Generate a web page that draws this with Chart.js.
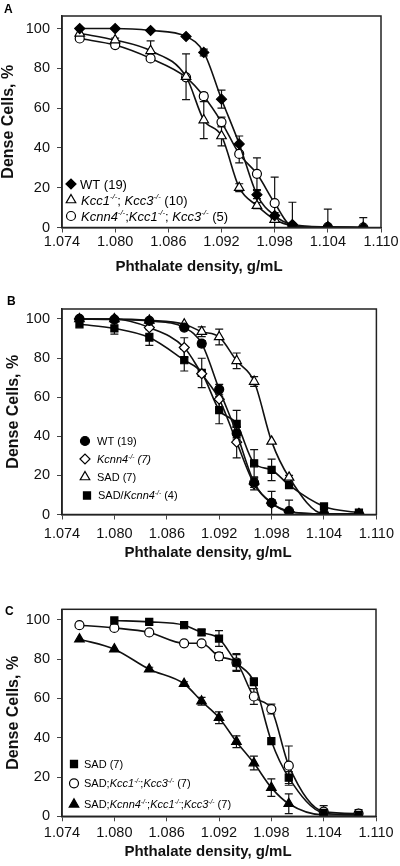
<!DOCTYPE html>
<html>
<head>
<meta charset="utf-8">
<script src="https://cdn.jsdelivr.net/npm/chart.js@4.4.1/dist/chart.umd.min.js"></script>
<style>
  html, body { margin: 0; padding: 0; background: #fff; }
  #wrap { position: relative; width: 400px; height: 866px; overflow: hidden; }
  canvas { position: absolute; left: 0; }
  .tag { position: absolute; font: bold 12px "Liberation Sans", Arial, sans-serif; line-height: 12px; color: #000; }
</style>
</head>
<body>
<div id="wrap">
  <canvas id="chartA" width="400" height="288" style="top:0px"></canvas>
  <canvas id="chartB" width="400" height="288" style="top:288px"></canvas>
  <canvas id="chartC" width="400" height="290" style="top:576px"></canvas>
  <div class="tag" style="left:4px;top:3px">A</div>
  <div class="tag" style="left:7px;top:295px">B</div>
  <div class="tag" style="left:5px;top:605px">C</div>
</div>
<script>
const FONT = '"Liberation Sans", Arial, Helvetica, sans-serif';

// shared x values and axis ticks
const density = [1.076, 1.080, 1.084, 1.088, 1.090, 1.092, 1.094, 1.096, 1.098, 1.100, 1.104, 1.108];
const xTicks = [1.074, 1.080, 1.086, 1.092, 1.098, 1.104, 1.110];
const yTicks = [0, 20, 40, 60, 80, 100];

// panel A
const wtA = [100, 100, 99, 96, 88, 64.5, 42, 16.5, 6, 1.5, 0.3, 0];
const wtAErr = [0, 0, 0, 0, 1.7, 4.5, 4, 2, 1.5, 0.5, 0, 0];
const kccA = [97.6, 94.2, 88.8, 75.8, 54, 46, 20, 11, 4, 1, 0.2, 0];
const kccAErr = [0, 1, 5, 11.5, 9.3, 5, 2, 1.5, 1, 0, 0, 0];
const kcnnKccA = [95, 91.7, 85, 75.5, 66, 53, 37, 27, 12.3, 0.7, 0.2, 0];
const kcnnKccAErr = [0, 0, 0, 0, 1.5, 2.5, 4.5, 8, 13, 12, 9, 5];

// panel B
const wtB = [100, 99.7, 99, 95.6, 87.4, 64, 41.5, 16.3, 6, 1.7, 0.3, 0.3];
const wtBErr = [0, 0, 0, 1, 1.5, 2.5, 3, 2.5, 1.5, 0.5, 0, 0];
const kcnnB = [100, 100, 95.6, 85.4, 72, 59, 37, 15.6, 5.8, 1.4, 0.3, 0.3];
const kcnnBErr = [0, 0, 3, 5, 0, 5, 8, 3, 6, 6, 0, 0];
const sadB = [100, 100, 99.3, 97.3, 93.5, 90.8, 78.6, 68, 37.4, 19, 0.3, 0.3];
const sadBErr = [0, 0, 0, 0, 2.5, 4, 4, 2.5, 0, 1, 0, 0];
const sadKcnnB = [97.3, 95.2, 90.5, 78.9, 72.4, 53.4, 46.3, 26.2, 22.8, 15, 4.1, 0.9];
const sadKcnnBErr = [0, 3, 4, 5.5, 7.5, 7, 7, 7, 5.5, 0, 0, 0];

// panel C
const sadC = [null, 99.7, 99, 97.3, 93.6, 90.5, 78.3, 68.5, 38.3, 19.7, 1.7, 0.7];
const sadCErr = [0, 0, 0, 0, 1.5, 4, 4, 2, 0, 3, 0, 0];
const sadKccC = [97.3, 95.9, 93.6, 88.1, 88.1, 81.4, 78.3, 61, 54.6, 25.8, 2.4, 1.4];
const sadKccCErr = [0, 0, 0, 0, 0, 2, 4.5, 4, 2.5, 10, 3, 2];
const sadKcnnKccC = [90.2, 85.1, 74.9, 67.5, 58.6, 50.2, 38, 27.1, 14.6, 6.4, 0.7, 0.7];
const sadKcnnKccCErr = [0, 0, 1, 1, 2, 3, 3, 3.5, 4.5, 5, 0, 0];

// legend labels: [text, italic, superscript]
const KO = ['-/-', true, true];
const legendA = [
  [['WT (19)']],
  [['Kcc1', true], KO, ['; '], ['Kcc3', true], KO, [' (10)']],
  [['Kcnn4', true], KO, [';'], ['Kcc1', true], KO, ['; '], ['Kcc3', true], KO, [' (5)']]
];
const legendB = [
  [['WT (19)']],
  [['Kcnn4', true], KO, [' (7)', true]],
  [['SAD (7)']],
  [['SAD/'], ['Kcnn4', true], KO, [' (4)']]
];
const legendC = [
  [['SAD (7)']],
  [['SAD;'], ['Kcc1', true], KO, [';'], ['Kcc3', true], KO, [' (7)']],
  [['SAD;'], ['Kcnn4', true], KO, [';'], ['Kcc1', true], KO, [';'], ['Kcc3', true], KO, [' (7)']]
];

function points(vals, err) {
  const out = [];
  vals.forEach(function(v, i) {
    if (v !== null) out.push({ x: density[i], y: v, err: err[i] });
  });
  return out;
}

function drawMarker(ctx, m, x, y) {
  ctx.save();
  ctx.lineWidth = 1.2;
  ctx.strokeStyle = '#000';
  ctx.fillStyle = m.filled ? '#000' : '#fff';
  Chart.helpers.drawPoint(ctx, { pointStyle: m.style, radius: m.r, rotation: 0, borderWidth: 1.2 }, x, y);
  ctx.restore();
}

const boxPlugin = {
  id: 'box',
  afterDraw(chart) {
    const a = chart.chartArea, ctx = chart.ctx;
    ctx.save();
    ctx.strokeStyle = '#222';
    ctx.lineWidth = 1.5;
    ctx.strokeRect(a.left, a.top, a.right - a.left, a.bottom - a.top);
    // x axis title, centred on the panel rather than the plot area
    const t = chart.options.plugins.xTitle;
    ctx.font = 'bold 15px ' + FONT;
    ctx.fillStyle = '#111';
    ctx.textAlign = 'center';
    ctx.textBaseline = 'middle';
    ctx.fillText('Phthalate density, g/mL', t.cx, t.cy);
    ctx.restore();
  }
};

const errorBars = {
  id: 'errorBars',
  beforeDatasetsDraw(chart) {
    const ctx = chart.ctx, a = chart.chartArea;
    const xs = chart.scales.x, ys = chart.scales.y;
    ctx.save();
    ctx.beginPath();
    ctx.rect(a.left, a.top, a.right - a.left, a.bottom - a.top);
    ctx.clip();
    ctx.strokeStyle = '#111';
    ctx.lineWidth = 1.2;
    chart.data.datasets.forEach(function(ds) {
      ds.data.forEach(function(p) {
        if (!p.err) return;
        const px = xs.getPixelForValue(p.x);
        const t = ys.getPixelForValue(p.y + p.err);
        const b = ys.getPixelForValue(p.y - p.err);
        ctx.beginPath();
        ctx.moveTo(px, t); ctx.lineTo(px, b);
        ctx.moveTo(px - 4, t); ctx.lineTo(px + 4, t);
        ctx.moveTo(px - 4, b); ctx.lineTo(px + 4, b);
        ctx.stroke();
      });
    });
    ctx.restore();
  }
};

const legendPlugin = {
  id: 'innerLegend',
  afterDraw(chart) {
    const o = chart.options.plugins.innerLegend;
    if (!o) return;
    const ctx = chart.ctx;
    o.items.forEach(function(it, k) {
      drawMarker(ctx, it.marker, it.mx, it.my);
      let x = it.tx;
      const base = it.my + o.font * 0.36;
      o.labels[k].forEach(function(part) {
        const size = part[2] ? o.font * 0.6 : o.font;
        ctx.font = (part[1] ? 'italic ' : '') + size + 'px ' + FONT;
        ctx.fillStyle = '#000';
        ctx.textBaseline = 'alphabetic';
        ctx.textAlign = 'left';
        const y = part[2] ? base - o.font * 0.4 : base;
        ctx.fillText(part[0], x, y);
        x += ctx.measureText(part[0]).width;
      });
    });
  }
};

function makePanel(p) {
  const datasets = p.series.map(function(s) {
    return {
      data: points(s.vals, s.err),
      borderColor: '#111',
      borderWidth: 1.6,
      cubicInterpolationMode: 'monotone',
      pointStyle: s.marker.style,
      pointRadius: s.marker.r,
      pointBorderWidth: 1.2,
      pointBorderColor: '#000',
      pointBackgroundColor: s.marker.filled ? '#000' : '#fff'
    };
  });
  const items = p.series.map(function(s) {
    return { marker: s.marker, mx: s.leg[0], my: s.leg[1], tx: s.leg[2] };
  });
  return new Chart(document.getElementById(p.id), {
    type: 'line',
    data: { datasets: datasets },
    options: {
      responsive: false,
      animation: false,
      devicePixelRatio: 1,
      events: [],
      layout: { padding: { top: p.top, right: 400 - p.right, bottom: 0, left: 0 } },
      plugins: {
        legend: { display: false },
        tooltip: { enabled: false },
        innerLegend: { items: items, labels: p.labels, font: p.legendFont },
        xTitle: { cx: p.titleX, cy: p.titleY }
      },
      scales: {
        x: {
          type: 'linear',
          min: 1.074,
          max: 1.110,
          afterBuildTicks: function(scale) { scale.ticks = xTicks.map(function(v) { return { value: v }; }); },
          afterFit: function(scale) { scale.height = p.h - p.bottom; },
          grid: { drawOnChartArea: false, drawTicks: true, tickLength: 5, color: '#444' },
          border: { display: true, color: '#222', width: 1.5 },
          ticks: {
            color: '#111',
            padding: p.tickPad,
            maxRotation: 0,
            font: { family: FONT, size: 14.5 },
            callback: function(v) { return Number(v).toFixed(3); }
          },
          title: { display: false }
        },
        y: {
          min: 0,
          max: p.yMax,
          afterBuildTicks: function(scale) { scale.ticks = yTicks.map(function(v) { return { value: v }; }); },
          afterFit: function(scale) { scale.width = 62; },
          grid: { drawOnChartArea: false, drawTicks: true, tickLength: 5, color: '#444' },
          border: { display: true, color: '#222', width: 1.5 },
          ticks: { color: '#111', padding: 7, font: { family: FONT, size: 14.5 } },
          title: {
            display: true,
            text: 'Dense Cells, %',
            color: '#111',
            font: { family: FONT, size: 16, weight: 'bold' },
            padding: { top: p.yTitlePad, bottom: 0 }
          }
        }
      }
    },
    plugins: [boxPlugin, errorBars, legendPlugin]
  });
}

makePanel({
  id: 'chartA', h: 288, top: 16, bottom: 227.5, right: 381, yMax: 106.3,
  tickPad: 1, titleX: 199, titleY: 267, yTitlePad: -1, legendFont: 13, labels: legendA,
  series: [
    { vals: wtA, err: wtAErr, marker: { style: 'rectRot', r: 5, filled: true }, leg: [71, 184, 80] },
    { vals: kccA, err: kccAErr, marker: { style: 'triangle', r: 5.5, filled: false }, leg: [71, 200, 81] },
    { vals: kcnnKccA, err: kcnnKccAErr, marker: { style: 'circle', r: 4.5, filled: false }, leg: [71, 216, 81] }
  ]
});

makePanel({
  id: 'chartB', h: 288, top: 21, bottom: 226.5, right: 379, yMax: 105.1,
  tickPad: 6, titleX: 208, titleY: 265.3, yTitlePad: 4, legendFont: 11, labels: legendB,
  series: [
    { vals: wtB, err: wtBErr, marker: { style: 'circle', r: 4.5, filled: true }, leg: [85, 153, 97] },
    { vals: kcnnB, err: kcnnBErr, marker: { style: 'rectRot', r: 5, filled: false }, leg: [85, 171, 97] },
    { vals: sadB, err: sadBErr, marker: { style: 'triangle', r: 5.5, filled: false }, leg: [85, 189, 97] },
    { vals: sadKcnnB, err: sadKcnnBErr, marker: { style: 'rect', r: 5, filled: true }, leg: [87, 207.5, 98] }
  ]
});

makePanel({
  id: 'chartC', h: 290, top: 33.3, bottom: 240.3, right: 376, yMax: 105.4,
  tickPad: 3, titleX: 208, titleY: 275.7, yTitlePad: 4, legendFont: 11, labels: legendC,
  series: [
    { vals: sadC, err: sadCErr, marker: { style: 'rect', r: 5, filled: true }, leg: [74, 188, 84] },
    { vals: sadKccC, err: sadKccCErr, marker: { style: 'circle', r: 4.5, filled: false }, leg: [74, 207.3, 84] },
    { vals: sadKcnnKccC, err: sadKcnnKccCErr, marker: { style: 'triangle', r: 5.5, filled: true }, leg: [74, 228.3, 84] }
  ]
});
</script>
</body>
</html>
